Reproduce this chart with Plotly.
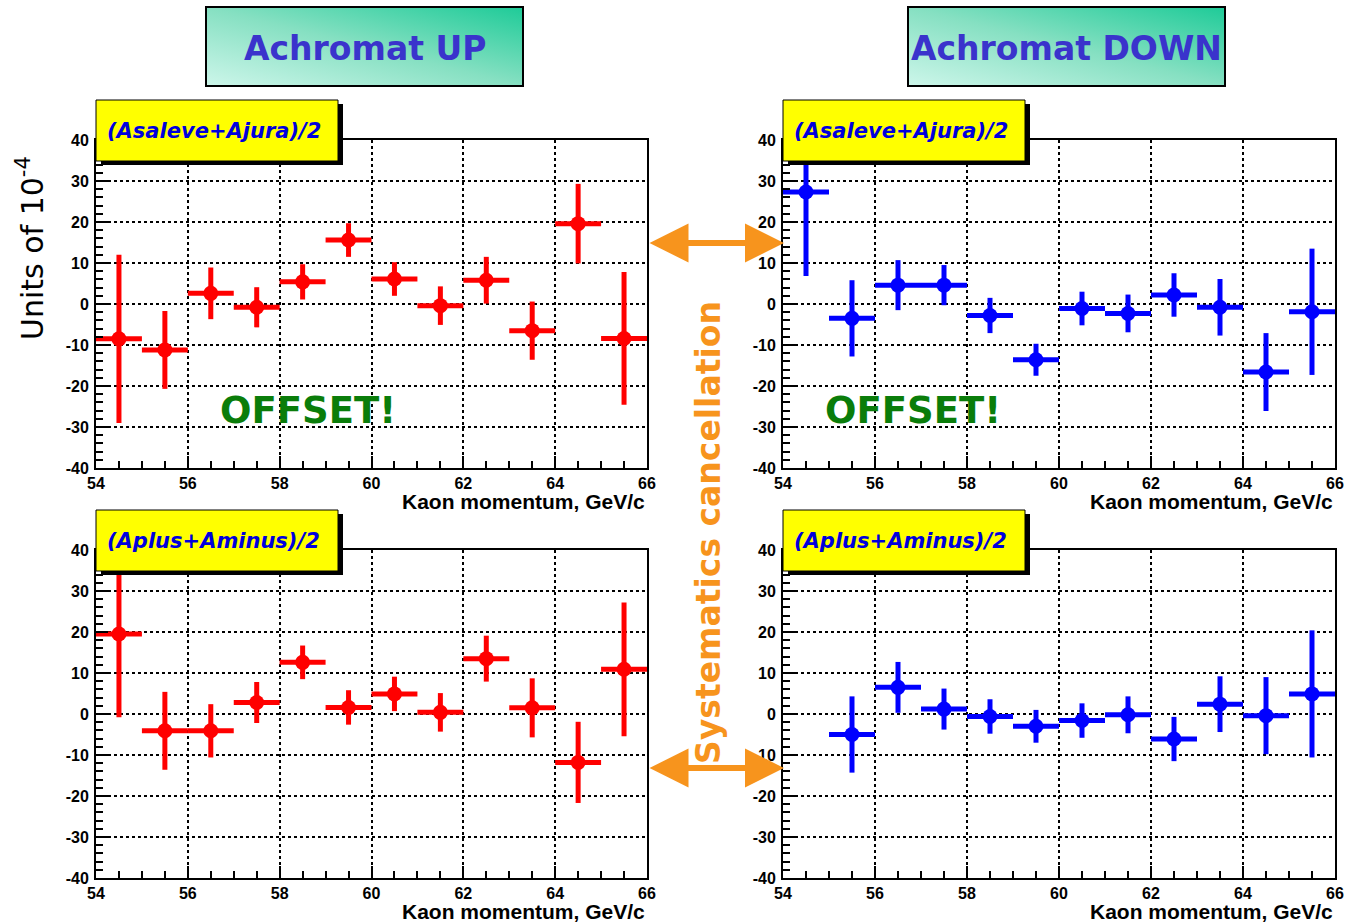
import base64
import plotly.graph_objects as go

W, H = 1348, 923

# ---------------- data ----------------
momentum = [54.5, 55.5, 56.5, 57.5, 58.5, 59.5, 60.5, 61.5, 62.5, 63.5, 64.5, 65.5]
bin_half_width = [0.5] * 12

up_asaleve = [-8.5, -11.2, 2.6, -0.8, 5.4, 15.6, 6.1, -0.4, 5.8, -6.5, 19.6, -8.4]
up_asaleve_err = [20.5, 9.5, 6.3, 4.9, 4.3, 4.1, 4.1, 4.7, 5.7, 7.1, 9.7, 16.2]

down_asaleve = [27.3, -3.5, 4.6, 4.6, -2.8, -13.6, -1.1, -2.3, 2.2, -0.8, -16.6, -1.9]
down_asaleve_err = [20.5, 9.3, 6.1, 4.9, 4.3, 3.9, 4.1, 4.6, 5.3, 6.9, 9.5, 15.4]

up_aplus = [19.5, -4.1, -4.1, 2.8, 12.6, 1.6, 4.9, 0.4, 13.5, 1.5, -11.8, 10.9]
up_aplus_err = [20.3, 9.5, 6.5, 5.0, 4.1, 4.2, 4.2, 4.7, 5.6, 7.2, 9.9, 16.3]

down_aplus = [None, -5.0, 6.5, 1.2, -0.6, -3.0, -1.6, -0.2, -6.1, 2.4, -0.4, 4.9]
down_aplus_err = [None, 9.3, 6.2, 5.0, 4.2, 4.0, 4.2, 4.5, 5.4, 6.8, 9.4, 15.5]

x_ticks = [54, 56, 58, 60, 62, 64, 66]
y_ticks = [-40, -30, -20, -10, 0, 10, 20, 30, 40]
y_tick_labels = ["-40", "-30", "-20", "-10", "0", "10", "20", "30", "40"]

panel_labels = ["(Asaleve+Ajura)/2", "(Asaleve+Ajura)/2", "(Aplus+Aminus)/2", "(Aplus+Aminus)/2"]
column_titles = ["Achromat UP", "Achromat DOWN"]
x_title = "Kaon momentum, GeV/c"
y_title = "Units of 10<sup>-4</sup>"
offset_text = "OFFSET!"
middle_text = "Systematics cancellation"

RED = "#ff0000"
BLUE = "#0000ff"
ORANGE = "#f7941d"


def px(x):
    return x / W


def py(y):
    return 1 - y / H


# panel pixel boxes: (left, top, right, bottom)
panels = [
    (96, 140, 647, 468),
    (783, 140, 1335, 468),
    (96, 550, 647, 878),
    (783, 550, 1335, 878),
]
series = [
    (up_asaleve, up_asaleve_err, RED),
    (down_asaleve, down_asaleve_err, BLUE),
    (up_aplus, up_aplus_err, RED),
    (down_aplus, down_aplus_err, BLUE),
]

fig = go.Figure()
layout = dict(
    width=W, height=H, margin=dict(l=0, r=0, t=0, b=0, pad=0, autoexpand=False),
    paper_bgcolor="white", plot_bgcolor="white", showlegend=False,
)

tickfont = dict(family="Liberation Sans", size=16, color="black", weight="bold")

shapes = []
annotations = []
images = []

for i, ((l, t, r, b), (vals, errs, col)) in enumerate(zip(panels, series)):
    n = "" if i == 0 else str(i + 1)
    fig.add_trace(go.Scatter(
        x=momentum, y=vals, mode="markers",
        marker=dict(size=15, color=col, symbol="circle"),
        error_x=dict(type="data", array=bin_half_width, thickness=5, width=0, color=col),
        error_y=dict(type="data", array=errs, thickness=5, width=0, color=col),
        xaxis="x" + n, yaxis="y" + n,
    ))
    layout["xaxis" + n] = dict(
        domain=[px(l), px(r)], range=[54, 66], anchor="y" + n, automargin=False,
        tickvals=x_ticks, ticks="inside", ticklen=12, tickwidth=1.5, tickcolor="black",
        minor=dict(dtick=0.5, ticks="inside", ticklen=7, tickwidth=1.5, tickcolor="black", showgrid=False),
        showgrid=True, gridcolor="black", griddash="dot", gridwidth=1.5,
        showline=True, linecolor="black", linewidth=2, mirror=True, zeroline=False,
        tickfont=tickfont, ticklabelstandoff=0,
    )
    layout["yaxis" + n] = dict(
        domain=[py(b), py(t)], range=[-40, 40], anchor="x" + n, automargin=False,
        tickvals=y_ticks, ticktext=y_tick_labels,
        ticks="inside", ticklen=12, tickwidth=1.5, tickcolor="black",
        minor=dict(dtick=2, ticks="inside", ticklen=7, tickwidth=1.5, tickcolor="black", showgrid=False),
        showgrid=True, gridcolor="black", griddash="dot", gridwidth=1.5,
        showline=True, linecolor="black", linewidth=2, mirror=True, zeroline=False,
        tickfont=tickfont, ticklabelstandoff=2,
    )
    # x-axis title
    annotations.append(dict(
        text=x_title, x=px(r), y=py(b + 33), xref="paper", yref="paper",
        xanchor="right", yanchor="middle", showarrow=False,
        font=dict(family="Liberation Sans", size=21, color="black", weight="bold"),
    ))
    # yellow label box with shadow
    bx0, by0 = l, t - 40
    bx1, by1 = l + 242, t + 21
    shapes.append(dict(type="rect", xref="paper", yref="paper", layer="above",
                       x0=px(bx0 + 5), x1=px(bx1 + 5), y0=py(by1 + 4), y1=py(by0 + 4),
                       fillcolor="black", line=dict(width=0)))
    shapes.append(dict(type="rect", xref="paper", yref="paper", layer="above",
                       x0=px(bx0), x1=px(bx1), y0=py(by1), y1=py(by0),
                       fillcolor="#ffff00", line=dict(color="black", width=1)))
    annotations.append(dict(
        text="<b><i>" + panel_labels[i] + "</i></b>", x=px(bx0 + 9), y=py(t - 9),
        xref="paper", yref="paper", xanchor="left", yanchor="middle", showarrow=False,
        font=dict(family="DejaVu Sans", size=21, color="#0000dd"),
    ))

# column title boxes with diagonal gradient
svg = ("<svg xmlns='http://www.w3.org/2000/svg' width='317' height='79' viewBox='0 0 317 79' "
       "preserveAspectRatio='none'><defs><linearGradient id='g' x1='0' y1='1' x2='1' y2='0'>"
       "<stop offset='0' stop-color='#cdf6ea'/><stop offset='0.5' stop-color='#86e0c2'/>"
       "<stop offset='1' stop-color='#1ecb98'/></linearGradient></defs>"
       "<rect x='0' y='0' width='317' height='79' fill='url(#g)'/></svg>")
svg_uri = "data:image/svg+xml;base64," + base64.b64encode(svg.encode()).decode()
for (x0, x1), title in zip([(206, 523), (908, 1225)], column_titles):
    images.append(dict(source=svg_uri, xref="paper", yref="paper", x=px(x0), y=py(7),
                       sizex=px(x1) - px(x0), sizey=py(7) - py(86), xanchor="left", yanchor="top",
                       sizing="stretch", layer="below"))
    shapes.append(dict(type="rect", xref="paper", yref="paper", x0=px(x0), x1=px(x1),
                       y0=py(86), y1=py(7), line=dict(color="black", width=2), fillcolor="rgba(0,0,0,0)"))
    annotations.append(dict(text="<b>" + title + "</b>", x=px((x0 + x1) / 2), y=py(48),
                            xref="paper", yref="paper", showarrow=False,
                            xanchor="center", yanchor="middle",
                            font=dict(family="DejaVu Sans", size=33, color="#3a33cc")))

# OFFSET! labels
for cx in (308, 913):
    annotations.append(dict(text="<b>" + offset_text + "</b>", x=px(cx), y=py(410),
                            xref="paper", yref="paper", showarrow=False,
                            xanchor="center", yanchor="middle",
                            font=dict(family="DejaVu Sans", size=37, color="#0a7d0a")))

# y title
annotations.append(dict(text=y_title, x=px(31), y=py(248), xref="paper", yref="paper",
                        textangle=-90, showarrow=False, xanchor="center", yanchor="middle",
                        font=dict(family="DejaVu Sans", size=30, color="black")))

# central vertical text
annotations.append(dict(text="<b>" + middle_text + "</b>", x=px(708), y=py(533),
                        xref="paper", yref="paper", textangle=-90, showarrow=False,
                        xanchor="center", yanchor="middle",
                        font=dict(family="DejaVu Sans", size=33, color=ORANGE)))

# double arrows
for ya in (243, 768):
    annotations.append(dict(text="", x=px(784), y=py(ya), xref="paper", yref="paper",
                            ax=-136, ay=0, axref="pixel", ayref="pixel",
                            showarrow=True, arrowhead=2, arrowside="end+start",
                            arrowsize=1.3, arrowwidth=6, arrowcolor=ORANGE,
                            standoff=0, startstandoff=0))

layout["shapes"] = shapes
layout["annotations"] = annotations
layout["images"] = images
fig.update_layout(**layout)
fig.write_html("out.html")
